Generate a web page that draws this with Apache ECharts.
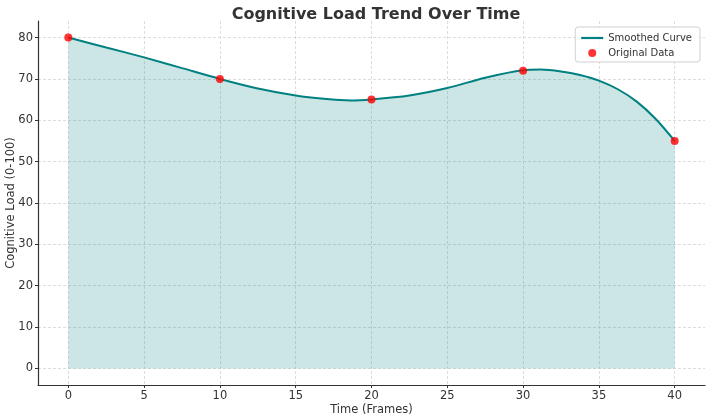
<!DOCTYPE html>
<html>
<head>
<meta charset="utf-8">
<script src="https://cdn.jsdelivr.net/npm/echarts@6/dist/echarts.min.js"></script>
<style>
  html, body { margin: 0; padding: 0; background: #fff; }
  #chart { width: 708px; height: 418px; }
</style>
</head>
<body>
<div id="chart"></div>
<script>
// original data points
var frames = [0, 10, 20, 30, 40];
var loads = [80, 70, 65, 72, 55];

// smoothed curve
var curveFrames = [0, 2.5, 5, 7.5, 10, 12.5, 15, 16.85, 18.6, 20, 22.5, 25, 27.5, 30, 31.15, 32.5, 33.75, 35, 36.25, 37.5, 38.75, 40];
var curveLoads = [80, 77.6, 75.2, 72.6, 70, 67.7, 66.0, 65.2, 64.8, 65.05, 66.0, 67.8, 70.3, 72.1, 72.25, 71.8, 70.95, 69.6, 67.5, 64.5, 60.3, 55];

var xTicks = [0, 5, 10, 15, 20, 25, 30, 35, 40];
var yTicks = [0, 10, 20, 30, 40, 50, 60, 70, 80];

var font = 'DejaVu Sans';

function pairs(xs, ys) {
    return xs.map(function (x, i) { return [x, ys[i]]; });
}

var chart = echarts.init(document.getElementById('chart'));

chart.setOption({
    animation: false,
    textStyle: { fontFamily: font },
    title: {
        text: 'Cognitive Load Trend Over Time',
        left: 371, top: 2, textAlign: 'center',
        textStyle: { fontFamily: font, fontSize: 16, fontWeight: 'bold', color: '#333' }
    },
    legend: {
        orient: 'vertical',
        right: 8, top: 27,
        padding: [6, 8, 4, 6],
        itemGap: 5,
        itemWidth: 22, itemHeight: 8,
        backgroundColor: 'rgba(255,255,255,0.8)',
        borderColor: '#d0d0d0', borderWidth: 1, borderRadius: 3,
        textStyle: { fontFamily: font, fontSize: 10, color: '#333' },
        data: [
            { name: 'Smoothed Curve', icon: 'path://M0,0H22V2.2H0Z' },
            { name: 'Original Data', icon: 'circle' }
        ]
    },
    grid: { left: 38, right: 3, top: 21, bottom: 33, outerBoundsMode: 'none' },
    xAxis: {
        type: 'value', min: -2, max: 42,
        name: 'Time (Frames)', nameLocation: 'middle', nameGap: 19, nameMoveOverlap: false,
        nameTextStyle: { fontFamily: font, fontSize: 11.5, color: '#333' },
        axisLine: { onZero: false, lineStyle: { color: '#333', width: 1.2 } },
        axisTick: { customValues: xTicks, length: 3, lineStyle: { color: '#333' } },
        axisLabel: { customValues: xTicks, fontFamily: font, fontSize: 11.5, color: '#333', margin: 5 },
        splitLine: { show: true, lineStyle: { color: '#d4d4d4', type: [3, 2], width: 0.8 } }
    },
    yAxis: {
        type: 'value', min: -4, max: 84,
        name: 'Cognitive Load (0-100)', nameLocation: 'middle', nameGap: 21, nameMoveOverlap: false,
        nameTextStyle: { fontFamily: font, fontSize: 11.5, color: '#333' },
        axisLine: { show: true, onZero: false, lineStyle: { color: '#333', width: 1.2 } },
        axisTick: { show: true, customValues: yTicks, length: 3, lineStyle: { color: '#333' } },
        axisLabel: { customValues: yTicks, fontFamily: font, fontSize: 11.5, color: '#333', margin: 5 },
        splitLine: { show: true, lineStyle: { color: '#d4d4d4', type: [3, 2], width: 0.8 } }
    },
    series: [
        {
            name: 'Smoothed Curve',
            type: 'line',
            smooth: 0.3,
            symbol: 'none',
            data: pairs(curveFrames, curveLoads),
            lineStyle: { color: 'teal', width: 2 },
            itemStyle: { color: 'teal' },
            areaStyle: { color: 'teal', opacity: 0.2, origin: 0 },
            z: 2
        },
        {
            name: 'Original Data',
            type: 'scatter',
            symbolSize: 8,
            data: pairs(frames, loads),
            itemStyle: { color: 'red' },
            z: 3
        }
    ]
});
</script>
</body>
</html>
